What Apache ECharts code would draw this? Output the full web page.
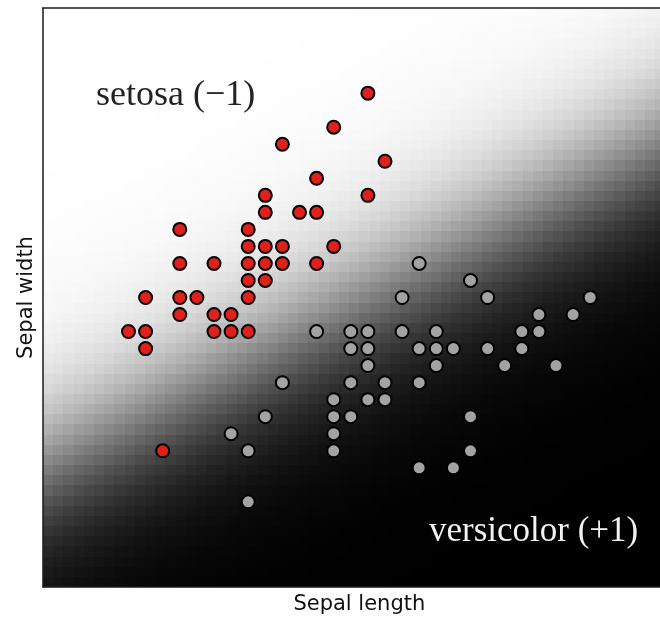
<!DOCTYPE html>
<html>
<head>
<meta charset="utf-8">
<script src="https://cdn.jsdelivr.net/npm/echarts@6/dist/echarts.min.js"></script>
<style>
  html, body { margin: 0; padding: 0; background: #fff; }
  #main { width: 660px; height: 620px; }
</style>
</head>
<body>
<div id="main"></div>
<script>
// Iris: setosa (-1) vs versicolor (+1)
const setosaLength = [5.7, 5.5, 5.2, 5.8, 5.4, 5.1, 5.7, 5.1, 5.3, 5.4, 4.6, 5.0, 5.0, 5.1, 5.2, 5.5, 4.6, 4.8, 5.0,
                      5.1, 5.2, 5.4, 5.0, 5.1, 4.4, 4.6, 4.7, 5.0, 4.6, 4.8, 4.9, 4.3, 4.4, 4.8, 4.9, 5.0, 4.4, 4.5];
const setosaWidth  = [4.4, 4.2, 4.1, 4.0, 3.9, 3.8, 3.8, 3.7, 3.7, 3.7, 3.6, 3.6, 3.5, 3.5, 3.5, 3.5, 3.4, 3.4, 3.4,
                      3.4, 3.4, 3.4, 3.3, 3.3, 3.2, 3.2, 3.2, 3.2, 3.1, 3.1, 3.1, 3.0, 3.0, 3.0, 3.0, 3.0, 2.9, 2.3];

const versicolorLength = [6.0, 6.3, 5.9, 6.4, 7.0, 6.7, 6.9, 5.4, 5.6, 5.7, 5.9, 6.1, 6.6, 6.7, 5.6, 5.7, 6.0, 6.1, 6.2,
                          6.4, 6.6, 5.7, 6.1, 6.5, 6.8, 5.2, 5.6, 5.8, 6.0, 5.5, 5.7, 5.8, 5.1, 5.5, 5.6, 6.3, 4.9, 5.5,
                          5.0, 5.5, 6.3, 6.0, 6.2, 5.0];
const versicolorWidth  = [3.4, 3.3, 3.2, 3.2, 3.2, 3.1, 3.1, 3.0, 3.0, 3.0, 3.0, 3.0, 3.0, 3.0, 2.9, 2.9, 2.9, 2.9, 2.9,
                          2.9, 2.9, 2.8, 2.8, 2.8, 2.8, 2.7, 2.7, 2.7, 2.7, 2.6, 2.6, 2.6, 2.5, 2.5, 2.5, 2.5, 2.4, 2.4,
                          2.3, 2.3, 2.3, 2.2, 2.2, 2.0];

// Axis ranges (no tick labels in the figure)
const xRange = [3.8, 7.5];
const yRange = [1.5, 4.9];

// Background: probability of setosa from the classifier, estimated from the shading
// boundary (p = 0.5): width = boundaryIntercept + boundarySlope * length
const boundaryIntercept = 0.18;
const boundarySlope = 0.527;
const steepness = 3.6;
const cellsX = 62;
const cellsY = 57;

const cellW = (xRange[1] - xRange[0]) / cellsX;
const cellH = (yRange[1] - yRange[0]) / cellsY;
const cells = [];
for (let i = 0; i < cellsX; i++) {
    for (let j = 0; j < cellsY; j++) {
        const sl = xRange[0] + (i + 0.5) * cellW;
        const sw = yRange[0] + (j + 0.5) * cellH;
        const z = steepness * (sw - (boundaryIntercept + boundarySlope * sl));
        cells.push([sl, sw, +(1 / (1 + Math.exp(-z))).toFixed(4)]);
    }
}

const setosaPts = setosaLength.map((v, i) => [v, setosaWidth[i]]);
const versicolorPts = versicolorLength.map((v, i) => [v, versicolorWidth[i]]);

const chart = echarts.init(document.getElementById('main'), null, { renderer: 'canvas' });

const axisLine = { show: true, lineStyle: { color: '#1a1a1a', width: 1.5 } };

const option = {
    animation: false,
    backgroundColor: '#fff',
    grid: { left: 43, right: -15.7, top: 8, bottom: 33, outerBoundsMode: 'none' },
    visualMap: {
        show: false,
        type: 'continuous',
        seriesIndex: 0,
        dimension: 2,
        min: 0,
        max: 1,
        inRange: { color: ['#000000', '#ffffff'] }
    },
    xAxis: [{
        type: 'value',
        min: xRange[0],
        max: xRange[1],
        z: 10,
        name: 'Sepal length',
        nameLocation: 'middle',
        nameGap: 7,
        nameTextStyle: { fontFamily: 'DejaVu Sans', fontSize: 21, color: '#111' },
        axisLine: axisLine,
        axisTick: { show: false },
        axisLabel: { show: false },
        splitLine: { show: false }
    }, {
        type: 'value',
        position: 'top',
        min: xRange[0],
        max: xRange[1],
        z: 10,
        axisLine: axisLine,
        axisTick: { show: false },
        axisLabel: { show: false },
        splitLine: { show: false }
    }],
    yAxis: {
        type: 'value',
        min: yRange[0],
        max: yRange[1],
        z: 10,
        name: 'Sepal width',
        nameLocation: 'middle',
        nameGap: 6,
        nameTextStyle: { fontFamily: 'DejaVu Sans', fontSize: 21, color: '#111' },
        axisLine: axisLine,
        axisTick: { show: false },
        axisLabel: { show: false },
        splitLine: { show: false }
    },
    series: [{
        type: 'custom',
        clip: true,
        silent: true,
        data: cells,
        renderItem: function (params, api) {
            const x = api.value(0), y = api.value(1);
            const p0 = api.coord([x - cellW / 2, y + cellH / 2]);
            const p1 = api.coord([x + cellW / 2, y - cellH / 2]);
            const x0 = Math.round(p0[0]), y0 = Math.round(p0[1]);
            const x1 = Math.round(p1[0]), y1 = Math.round(p1[1]);
            return {
                type: 'rect',
                shape: { x: x0, y: y0, width: x1 - x0, height: y1 - y0 },
                style: { fill: api.visual('color') }
            };
        }
    }, {
        name: 'versicolor',
        type: 'scatter',
        data: versicolorPts,
        symbol: 'circle',
        symbolSize: 13,
        itemStyle: { color: '#a3a3a3', borderColor: '#000', borderWidth: 2, opacity: 1 }
    }, {
        name: 'setosa',
        type: 'scatter',
        data: setosaPts,
        symbol: 'circle',
        symbolSize: 13,
        itemStyle: { color: '#e0201c', borderColor: '#000', borderWidth: 2, opacity: 1 }
    }],
    graphic: [{
        type: 'text',
        left: 96,
        top: 78,
        z: 20,
        style: { text: 'setosa (\u22121)', fontFamily: 'Liberation Serif', fontSize: 36, fill: '#222' }
    }, {
        type: 'text',
        left: 429,
        top: 514,
        z: 20,
        style: { text: 'versicolor (+1)', fontFamily: 'Liberation Serif', fontSize: 35, fill: '#f2f2f2' }
    }]
};

chart.setOption(option);
window.addEventListener('resize', () => chart.resize());
</script>
</body>
</html>
